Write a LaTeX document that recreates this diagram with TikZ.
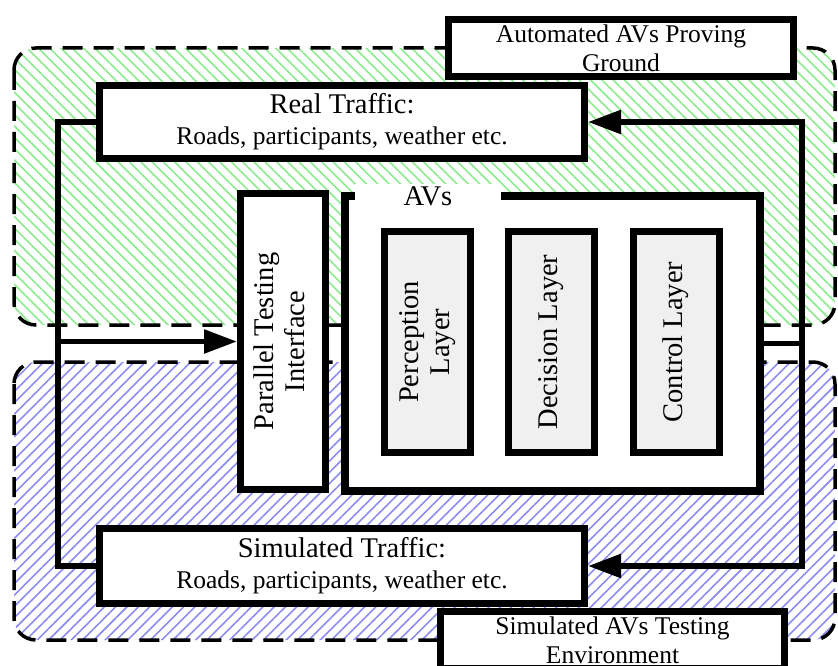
\documentclass[tikz,border=0pt]{standalone}
\usepackage{fontspec}
\setmainfont{Liberation Serif}
\usepackage{graphicx}
\usetikzlibrary{arrows.meta,patterns.meta}
\definecolor{hatchgreen}{RGB}{140,235,140}
\definecolor{hatchblue}{RGB}{140,140,240}
\newcommand{\bigfont}{\fontsize{28.5}{31}\selectfont}
\newcommand{\smallfont}{\fontsize{25.5}{29}\selectfont}
\newcommand{\uptext}[1]{\rotatebox{90}{\begin{tabular}{@{}c@{}}#1\end{tabular}}}
\begin{document}
\begin{tikzpicture}[x=1pt,y=-1pt,
	region/.style={draw, dash pattern=on 20pt off 11pt, line width=3.5pt, rounded corners=22pt},
	box/.style={draw, fill=white, line width=7pt, inner sep=0pt, align=center, font=\bigfont},
	layer/.style={box, fill=gray!12, minimum width=86pt, minimum height=221pt},
	conn/.style={line width=5.5pt},
	arr/.style={conn, -{Triangle[length=33pt,width=23pt]}}]
	\useasboundingbox (0,0) rectangle (838,666);
	\draw[region, pattern={Lines[angle=-45,distance=8pt,line width=1.6pt]}, pattern color=hatchgreen] (14,48) rectangle (835,325);
	\draw[region, pattern={Lines[angle=45,distance=8pt,line width=1.6pt]}, pattern color=hatchblue] (14,362) rectangle (835,640);
	\node (proving)	at (621,48)	[box, font=\smallfont, minimum width=345pt, minimum height=57pt]	{Automated AVs Proving\\Ground};
	\node (real)	at (342,122)	[box, minimum width=485pt, minimum height=73pt]	{Real Traffic:\\\smallfont Roads, participants, weather etc.};
	\node (pti)	at (283,341.5)	[box, minimum width=85pt, minimum height=296pt]	{\uptext{Parallel Testing\\Interface}};
	\node (avs)	at (552.5,343.5)	[box, line width=8pt, minimum width=415pt, minimum height=295pt]	{};
	\node (avslabel)	at (428,196)	[fill=white, font=\bigfont, inner sep=0pt, minimum width=146pt, minimum height=24pt]	{AVs};
	\node (perc)	at (427.5,342)	[layer]	{\uptext{Perception\\Layer}};
	\node (dec)	at (551.5,342)	[layer]	{\uptext{Decision Layer}};
	\node (ctrl)	at (676.5,342)	[layer]	{\uptext{Control Layer}};
	\node (sim)	at (342,566)	[box, minimum width=485pt, minimum height=75pt]	{Simulated Traffic:\\\smallfont Roads, participants, weather etc.};
	\node (simenv)	at (612.5,640)	[box, font=\smallfont, minimum width=344pt, minimum height=57pt]	{Simulated AVs Testing\\Environment};
	\coordinate (ltop) at (58,122);
	\coordinate (lbot) at (58,566);
	\coordinate (rtop) at (802,122);
	\coordinate (rbot) at (802,566);
	\draw[conn] (real.west) -- (ltop) -- (lbot) -- (sim.west);
	\draw[arr] (ltop |- pti.west) -- (pti.west);
	\draw[arr] (avs.east) -| (rtop) -- (real.east);
	\draw[arr] (avs.east) -| (rbot) -- (sim.east);
\end{tikzpicture}
\end{document}
